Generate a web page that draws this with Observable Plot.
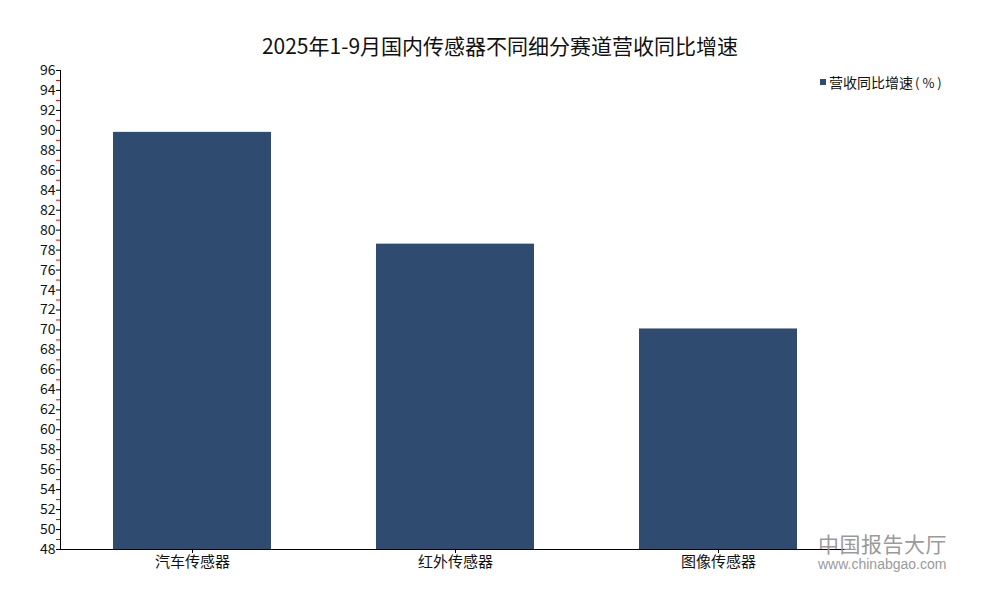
<!DOCTYPE html>
<html>
<head>
<meta charset="utf-8">
<script src="https://cdn.jsdelivr.net/npm/d3@7"></script>
<script src="https://cdn.jsdelivr.net/npm/@observablehq/plot@0.6"></script>
<style>
  html, body { margin: 0; padding: 0; background: #fff; overflow: hidden; font-family: "Noto Sans CJK SC", sans-serif; }
  #wrap { position: relative; width: 1000px; height: 600px; overflow: hidden; }
  #title { height: 30px; line-height: 30px; padding-top: 30px; text-align: center; font-size: 21px; color: #111; font-family: "Noto Sans CJK SC", sans-serif; }
  #chart svg { display: block; }
  #legend { position: absolute; left: 820px; top: 72px; font-size: 14px; color: #111; display: flex; align-items: center; }
  #legend .sw { width: 6px; height: 6px; background: #2f4b6f; margin-right: 3px; }
  #legend .pct { font-size: 13px; letter-spacing: 3px; margin-left: 2px; }
  #wm-a { position: absolute; left: 818px; top: 531px; height: 24px; font-size: 21px; line-height: 24px; color: #9a9a9a; letter-spacing: 0.5px; }
  #wm-b { position: absolute; left: 818px; top: 557px; height: 14px; font-size: 14px; line-height: 14px; color: #9a9a9a; font-family: Arial, "Liberation Sans", sans-serif; }
</style>
</head>
<body>
<div id="wrap">
  <div id="title">2025年1-9月国内传感器不同细分赛道营收同比增速</div>
  <div id="chart"></div>
  <div id="legend"><span class="sw"></span><span>营收同比增速</span><span class="pct">(%)</span></div>
  <div id="wm-a">中国报告大厅</div>
  <div id="wm-b">www.chinabgao.com</div>
</div>
<script>
const categories = ["汽车传感器", "红外传感器", "图像传感器"];
const values = [89.8, 78.6, 70.1];
const majorTicks = [48, 50, 52, 54, 56, 58, 60, 62, 64, 66, 68, 70, 72, 74, 76, 78, 80, 82, 84, 86, 88, 90, 92, 94, 96];
const minorTicks = [49, 51, 53, 55, 57, 59, 61, 63, 65, 67, 69, 71, 73, 75, 77, 79, 81, 83, 85, 87, 89, 91, 93, 95];
const barColor = "#2f4b6f";

const data = categories.map((c, i) => ({cat: c, value: values[i]}));

const chart = Plot.plot({
  width: 1000,
  height: 540,
  marginTop: 10,
  marginBottom: 51,
  marginLeft: 60,
  marginRight: 150,
  style: {fontFamily: "'Noto Sans CJK SC', sans-serif", color: "#111", background: "#fff"},
  x: {domain: categories, paddingInner: 0.4, paddingOuter: 0.2, label: null},
  y: {domain: [48, 96], label: null},
  marks: [
    Plot.barY(data, {x: "cat", y1: 48, y2: "value", fill: barColor}),
    Plot.axisY({ticks: minorTicks, tickSize: 4, stroke: "#e00", tickFormat: () => "", label: null}),
    Plot.axisY({ticks: majorTicks, tickSize: 4, tickPadding: 1, fontSize: 14, stroke: "#000", fill: "#111", label: null}),
    Plot.axisX({tickSize: 4, tickPadding: 3, fontSize: 15, stroke: "#000", fill: "#111", label: null}),
    Plot.frame({anchor: "left", stroke: "#000"}),
    Plot.ruleY([48], {stroke: "#000"})
  ]
});
document.getElementById("chart").appendChild(chart);
</script>
</body>
</html>
